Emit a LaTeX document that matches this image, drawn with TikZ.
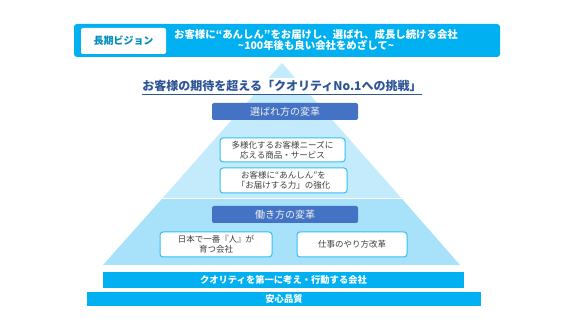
\documentclass[tikz,border=0pt]{standalone}
\usepackage{fontspec}
\setmainfont{Noto Sans CJK JP}
\definecolor{cyanbar}{HTML}{00B0F0}
\definecolor{navytext}{HTML}{2F5597}
\definecolor{royalbox}{HTML}{4472C4}
\definecolor{pyrtop}{HTML}{C3EBFB}
\definecolor{pyrlow}{HTML}{A8E2FA}
\definecolor{greytext}{HTML}{404040}

\begin{document}
\begin{tikzpicture}[x=1pt, y=1pt,
    bar/.style={fill=cyanbar, text=white, inner sep=0pt, font=\fontsize{9.3}{10}\selectfont\bfseries},
    stage/.style={fill=royalbox, rounded corners=2pt, text=white!95!black, inner sep=0pt,
        minimum width=146, minimum height=17, font=\fontsize{10}{11}\selectfont},
    pillar/.style={draw=cyanbar!80, line width=1pt, fill=white, rounded corners=3pt, text=greytext,
        inner sep=0pt, align=center, font=\fontsize{8.5}{10.5}\selectfont}]
    \useasboundingbox (0,0) rectangle (566,318);
    % long-term vision banner
    \node[bar, rounded corners=3pt, minimum width=426, minimum height=33] (vision) at (287,277.5) {};
    \node[fill=white, rounded corners=2pt, inner sep=0pt, minimum width=85, minimum height=26,
        text=cyanbar!80!black, font=\fontsize{10}{11}\selectfont\bfseries] (visionlabel) at (123.5,277) {長期ビジョン};
    \node[text=white, align=center, font=\fontsize{10.4}{11}\selectfont\bfseries] (visiontext) at (316,278.5)
        {お客様に“あんしん”をお届けし、選ばれ、成長し続ける会社\\\textasciitilde100年後も良い会社をめざして\textasciitilde};
    % pyramid : upper triangle and lower trapezoid
    \fill[pyrlow] (103,53) -- (460,53) -- (401.7,119.5) -- (162.3,119.5) -- cycle;
    \fill[pyrtop] (162.3,119.5) -- (401.7,119.5) -- (282,255) -- cycle;
    \draw[white, line width=1.5pt] (150,119.5) -- (414,119.5);
    % challenge title
    \node[fill=white, text=navytext, inner xsep=0pt, inner ysep=2pt,
        font=\fontsize{12}{12}\selectfont\bfseries] (challenge) at (282,232)
        {お客様の期待を超える「クオリティNo.1への挑戦」};
    \draw[navytext, line width=0.8pt] (challenge.south west) -- (challenge.south east);
    % upper stage
    \node[stage] (chosen) at (285,206.5) {選ばれ方の変革};
    \node[pillar, minimum width=125, minimum height=24] (needs) at (282.5,168)
        {多様化するお客様ニーズに\\応える商品・サービス};
    \node[pillar, minimum width=127, minimum height=25] (relief) at (283.5,137.5)
        {お客様に“あんしん”を\\「お届けする力」の強化};
    % lower stage
    \node[stage] (working) at (285,103.5) {働き方の変革};
    \node[pillar, minimum width=112, minimum height=25] (people) at (216,73.5)
        {日本で一番『人』が\\育つ会社};
    \node[pillar, minimum width=110, minimum height=25] (reform) at (352,73.5) {仕事のやり方改革};
    % foundations
    \node[bar, minimum width=361, minimum height=16] (quality) at (283.5,38) {クオリティを第一に考え・行動する会社};
    \node[bar, minimum width=394, minimum height=14] (safety) at (284,19) {安心品質};
\end{tikzpicture}
\end{document}
